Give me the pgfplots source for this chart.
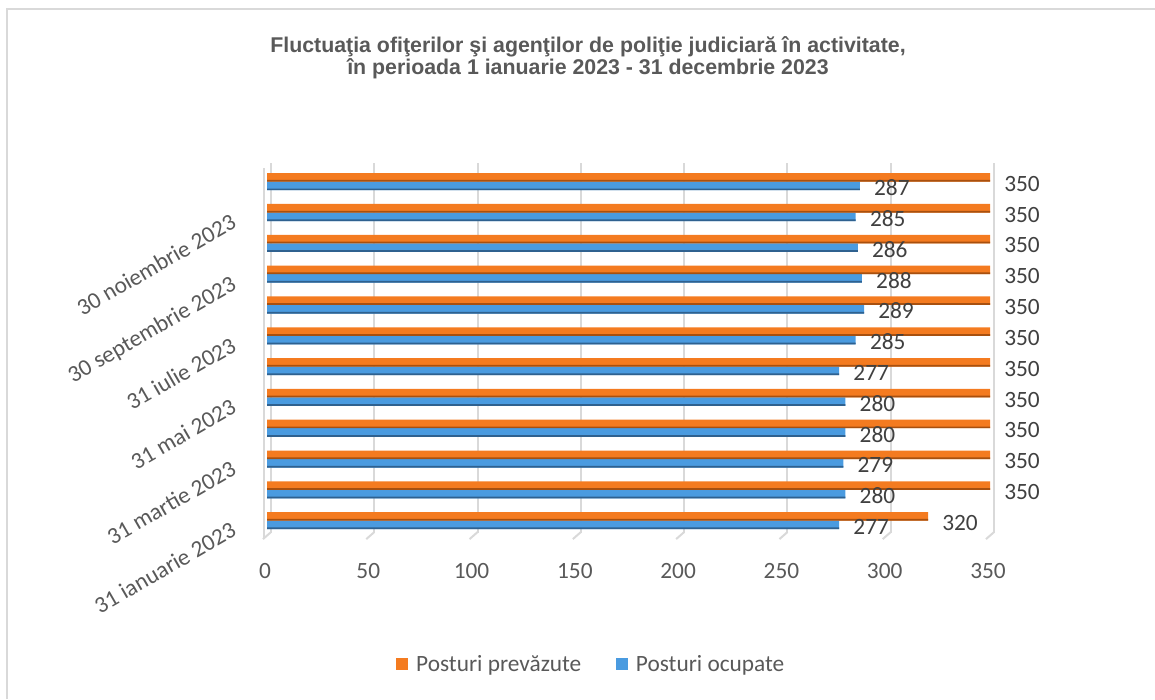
\documentclass[border=0pt]{standalone}
\usepackage{pgfplots}
\usepackage{pgfplotstable}
\pgfplotsset{compat=1.18}
\usepackage{fontspec}
\setmainfont{Carlito}
\newfontfamily\titlefont{Liberation Sans}
\definecolor{txt}{HTML}{595959}
\definecolor{lbl}{HTML}{404040}
\definecolor{org}{HTML}{F47B20}
\definecolor{orgd}{HTML}{A8500F}
\definecolor{blu}{HTML}{4A9BE0}
\definecolor{blud}{HTML}{2F618F}
\definecolor{gridc}{HTML}{D9D9D9}

\pgfplotstableread{
y prev ocup
0 320 277
1 350 280
2 350 279
3 350 280
4 350 280
5 350 277
6 350 285
7 350 289
8 350 288
9 350 286
10 350 285
11 350 287
}\data

\begin{document}
\begin{tikzpicture}
\useasboundingbox (0,0) rectangle (866.25pt,524.25pt);
\draw[gridc, line width=1.2pt] (5.25pt,0) -- (5.25pt,517.5pt) -- (866.25pt,517.5pt);
\node[align=center, text=txt, font=\titlefont\bfseries\fontsize{16}{16.5}\selectfont] at (441pt,481pt)
  {Fluctuaţia ofiţerilor şi agenţilor de poliţie judiciară în activitate,\\în perioada 1 ianuarie 2023 - 31 decembrie 2023};
\begin{axis}[
  at={(200.25pt,122.175pt)}, anchor=south west,
  width=542.25pt, height=277.35pt, scale only axis,
  xmin=0, xmax=350, ymin=-0.5, ymax=11.5,
  xtick={0,50,...,350},
  ytick={0,2,4,6,8,10},
  yticklabels={31 ianuarie 2023,31 martie 2023,31 mai 2023,31 iulie 2023,30 septembrie 2023,30 noiembrie 2023},
  major tick length=0pt,
  axis line style={draw=none},
  xmajorgrids,
  major grid style={draw=gridc, line width=1.5pt, xshift=3pt, yshift=2.6pt},
  /pgf/number format/assume math mode=true,
  xticklabel style={anchor=center, yshift=-26pt, xshift=-1.5pt, text=txt, font=\fontsize{17.5}{20}\selectfont},
  yticklabel style={anchor=north east, inner sep=0pt, xshift=-28pt, rotate=30, text=txt, font=\fontsize{17.5}{20}\selectfont},
  legend style={at={(0.449,-0.346)}, anchor=center, draw=none, fill=none, legend columns=2,
    font=\fontsize{17.5}{20}\selectfont, text=txt,
    /tikz/every even column/.append style={column sep=24pt}},
  legend image code/.code={\fill[#1] (0pt,-4.5pt) rectangle (9pt,4.5pt); \path (13pt,0pt);},
  clip=false,
]
\pgfplotsinvokeforeach{0,50,100,150,200,250,300,350}{
  \draw[gridc, line width=1.5pt] ([xshift=3pt,yshift=3pt]axis cs:#1,-0.5) -- ([xshift=-3pt,yshift=-2.25pt]axis cs:#1,-0.5);
}
\draw[gridc, line width=1.5pt] ([xshift=-2.25pt,yshift=-2.25pt]axis cs:0,-0.5) -- ([xshift=-2.25pt,yshift=-1.3pt]axis cs:0,11.5);
\addplot[xbar, bar width=6.4pt, bar shift=3.2pt, draw=none, fill=org,
  point meta=explicit, nodes near coords,
  nodes near coords style={anchor=west, inner sep=0pt, xshift=10.5pt, yshift=-1.6pt, text=lbl, font=\fontsize{17.5}{20}\selectfont}]
  table[x=prev, y=y, meta=prev]{\data};
\addlegendentry{Posturi prevăzute}
\addplot[xbar, bar width=6.4pt, bar shift=-3.2pt, draw=none, fill=blu,
  point meta=explicit, nodes near coords,
  nodes near coords style={anchor=west, inner sep=0pt, xshift=10.5pt, yshift=-4.5pt, text=lbl, font=\fontsize{17.5}{20}\selectfont}]
  table[x=ocup, y=y, meta=ocup]{\data};
\addlegendentry{Posturi ocupate}
\addplot[xbar, forget plot, bar width=1.3pt, bar shift=0.65pt, draw=none, fill=orgd]
  table[x=prev, y=y]{\data};
\addplot[xbar, forget plot, bar width=1.3pt, bar shift=-5.75pt, draw=none, fill=blud]
  table[x=ocup, y=y]{\data};
\end{axis}
\end{tikzpicture}
\end{document}
